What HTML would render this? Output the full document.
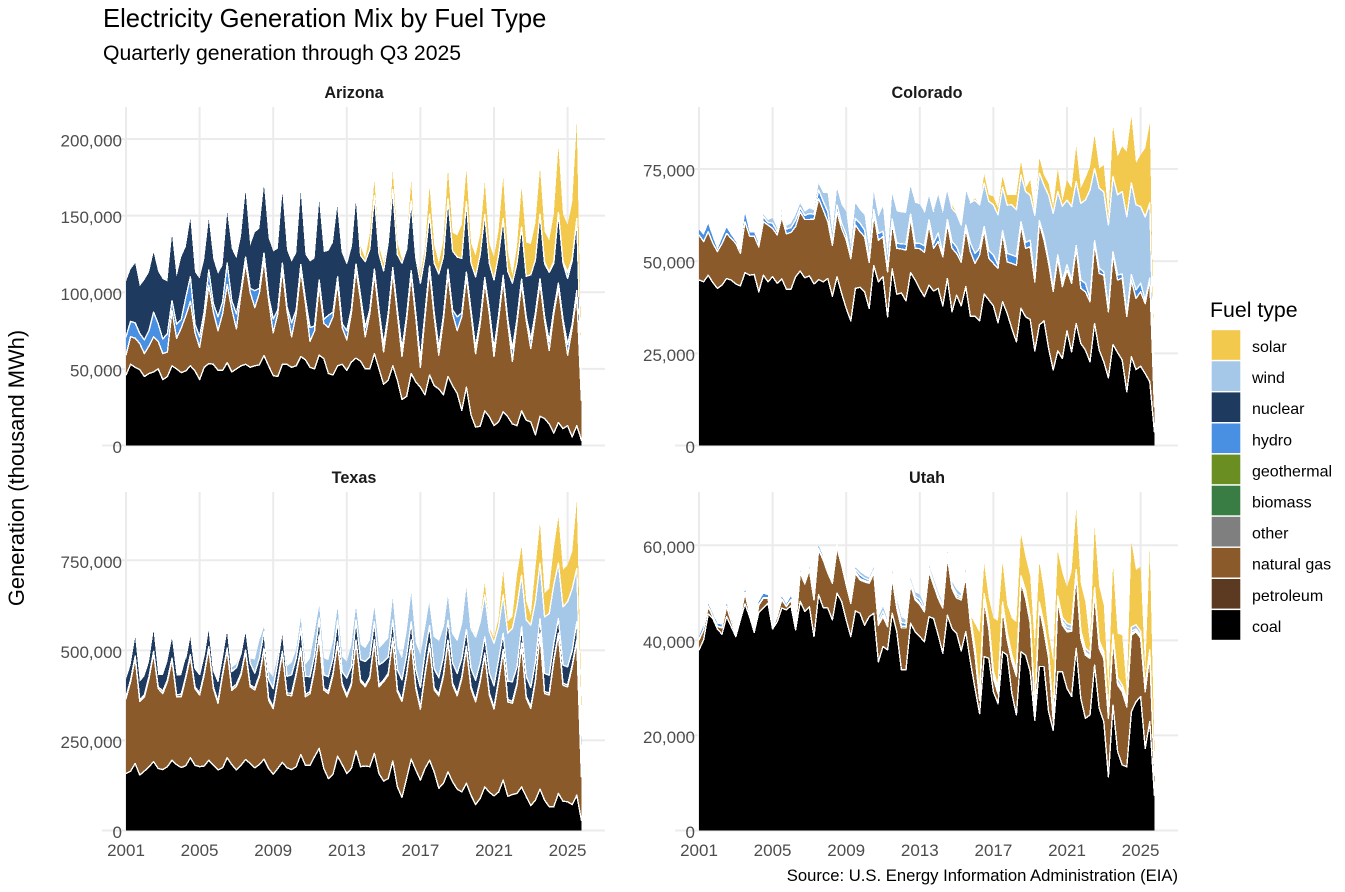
<!DOCTYPE html>
<html lang="en">
<head>
<meta charset="utf-8">
<title>Electricity Generation Mix by Fuel Type</title>
<style>
html,body{margin:0;padding:0;background:#fff;}
svg{display:block;font-family:"Liberation Sans",Arial,sans-serif;}
</style>
</head>
<body>
<svg id="chart" width="1345" height="892" viewBox="0 0 1345 892" xmlns="http://www.w3.org/2000/svg">
  <rect x="0" y="0" width="1345" height="892" fill="#fff"/>
  <text x="103" y="27" font-size="25.6" fill="#000">Electricity Generation Mix by Fuel Type</text>
  <text x="103" y="60" font-size="21.2" fill="#000">Quarterly generation through Q3 2025</text>
  <text transform="translate(24,468) rotate(-90)" text-anchor="middle" font-size="21.9" fill="#000">Generation (thousand MWh)</text>
  <text x="1178" y="881" text-anchor="end" font-size="16.65" fill="#000">Source: U.S. Energy Information Administration (EIA)</text>
  <g id="panels"></g>
  <g id="legend">
    <text x="1210" y="317" font-size="21.3" fill="#000">Fuel type</text>
  </g>
</svg>
<script>
// Time axis
const startYear = 2001;
const yearTicks = [2001, 2005, 2009, 2013, 2017, 2021, 2025];

// Legend / stacking
const fuelLabels = ['solar','wind','nuclear','hydro','geothermal','biomass','other','natural gas','petroleum','coal'];
const fuelColors = ['#F2C94C','#A6C8E8','#1E3A5F','#4A90E2','#6B8E23','#3A7D44','#7F7F7F','#8B5A2B','#5C3A21','#000000'];

// Tick values
const arizonaTicks = [0, 50000, 100000, 150000, 200000];
const coloradoTicks = [0, 25000, 50000, 75000];
const texasTicks = [0, 250000, 500000, 750000];
const utahTicks = [0, 20000, 40000, 60000];

// Arizona series (each value is in thousands of the axis unit)
const arizonaCoal = [46,53,51,49.5,45,47,48,50,43,45,52,50,47.6,48.7,52,48.7,43,51,53.5,53,49,49,54,48,50,52,53,51,52,52.6,58.7,52,45.6,45,53,53,51,52,58,56,51,50,59,56.7,47,46,52,53,49,54.5,57,55,50,50,60,50,40,42.6,52,42.6,30,32,47,41.5,38,33,46,39,37,33,45,39,34,23,38,20,12,12.6,22.6,18.7,13,15.4,22,18.7,14,13,22.6,16.5,15.4,7,19,17.6,14,8,15,11,13,5.6,13,3.5];
const arizonaGas = [13,18,19,17,15,18,23,18,17,16,36,20,29,36,42,25,21,31,51,34,26,37,51,41,26,47,66,49,38,47,62,43,28,41,62,35,20,34,56,37,17,25,45,23,30,38,54,24,20,32,58,40,21,36,52,36,21,41,61,43,28,50,64,42,13,51,68,45,22,49,67,47,41,61,72,66,48,67,84,67,45,67,86,61,41,67,83,65,48,77,87,64,48,78,88,69,46,71,85,26];
const arizonaHydro = [12,10,10,6.5,9,10,16,11.5,9.5,12,6.5,9,5.4,12,16,5.4,7,5.4,10,5.4,9,7.6,14,5.4,10,2.5,4,2.5,11,3,5,2.5,9,2.5,4,2.5,9,2.5,4,2.5,9,3,4,2.5,8,3,4,2.5,6,2.5,3.5,2.5,6,2.5,3,2.5,5,2.5,3,2.5,5,2.5,3,2.5,5,2.5,3,2.5,5,2.5,3,2.5,9,2.5,3,2.5,4,2.5,3,2.5,5,2.5,3,2.5,8,2.5,3,2.5,6,2.5,3,2.5,6,2.5,3,2.5,7,2.5,3,1];
const arizonaNuclear = [36,34,39,31,39,38,39,34,39,34,43,31,41,33,38,34,38,34,33,29,28,24,33,34,36,35,43,28,38,39,44,38,44,40,46,37,40,37,47,29,43,44,51.5,44,42,45.5,48,47,44,41.5,46.5,26.5,43,39.5,48,36.5,48,46.5,51,36.5,56,43.5,45.5,36.5,50,36.5,34,32.5,48,38.5,46,38.5,39,35.5,46,30.5,46,42.5,41,30.5,45,39.5,37,31.5,43,36.5,34,26.5,42,34.5,42,34.5,45,30.5,46,36.5,43,41.5,46,10];
const arizonaWind = [0,0,0,0,0,0,0,0,0,0,0,0,0,0,0,0,0,0,0,0,0,0,0,0,0,0,0,0,0,0,0,0,0,0,0,0,0,0,0,0,0,0,0,0,0,0,0,0,0,0,0,0,0,0,0,0,0,0,0,0,0,0,0,0,0,0,0,0,0,0,0,0,0,0,0,0,0,0,0,0,0,0,0,0,0,0,0,0,0,0,0,1,0,1,0,1,4,1,1,0];
const arizonaSolar = [0,0,0,0,0,0,0,0,0,0,0,0,0,0,0,0,0,0,0,0,0,0,0,0,0,0,0,0,0,0,0,0,0,0,0,0,0,0,0,0,0,0,0,0,0,0,0,1,1,0,1,6,2,10,10,5,5,1,12,8,2,1,13,1,5,6,18,12,7,11,19,12,14,22,21,13,14,13,21,13,15,16,27,13,5,11,26,22,20,24,30,20,21,31,43,31,31,37,62,11];

// Colorado series
const coloradoCoal = [44.9,44.4,46.2,44.2,42.6,43.5,45.3,44.9,43.8,43.3,46.9,46.2,46.4,41.7,46.2,44.4,45.8,44,45.2,42.4,42.4,45.8,47.3,45.5,46,43.8,45,44.4,45.3,40.5,45.8,41.3,37.2,33.8,42.6,42.9,41.7,37.2,48.8,44.4,45.8,34.9,47.9,41,41.4,39.2,46.9,44.9,42.4,40.4,43.5,41.9,42.6,37.9,45.3,36.3,40.8,37.9,43.1,35.1,35.1,33.8,41.1,39.5,37.9,33.3,39,35.8,31.8,28.1,37.2,34.9,34.2,25.7,32.7,33.8,26.3,20.5,25.7,23.6,31.1,25.4,33.1,27.7,25.9,22.7,33.1,25.9,22.7,18.4,27.4,25.2,23.2,14.6,24.1,20.6,21.5,19.5,17.3,3.7];
const coloradoGas = [12.2,10.9,11.8,10.7,10,11.3,12.2,11.3,11,8.8,13.8,10.6,10.4,12.2,14.5,15.4,13.1,13.1,16.7,15,15.4,13.6,16.1,15.8,15.3,17.6,22,19.5,15.4,13.8,17.6,17.6,18.6,16.9,17.2,15.1,14.9,12.5,13.8,11.3,10.9,12.2,12.4,12.5,11.9,13.8,14.8,8.6,11,12,16.3,11.6,12.7,13.3,14.9,17.2,11.3,11.8,15.8,17.5,14.3,17.9,17.4,11.3,11.5,14.8,18.6,14,17.6,20.8,22.6,18.6,19.7,18.7,27.6,21.9,23.1,21.3,25.1,19.5,16.5,18.6,20.4,14.9,15.8,16.3,21.7,20.8,23.5,17.9,24.3,19.7,22.2,20.4,20.8,19.3,20.2,19,27.6,6.8];
const coloradoHydro = [1.5,1.8,2.1,1.6,0.5,1.4,1.6,0.9,0.5,0.5,2.3,1,1,0.7,1.4,0.7,1.4,0.9,1.4,1.3,1.3,1.8,1.1,1.1,1.6,1.3,2.3,2.3,2.7,0.7,1.8,1.4,1.4,0.7,1.8,2.3,1.8,0.7,1.4,1.8,1.4,0.7,1.1,1.4,1.4,1.6,1.1,1.4,1.4,1.8,1.4,1.4,2.3,0.9,1.1,1.8,1.8,0.9,0.9,2.3,2.7,1.8,0.9,2,2.3,0.9,0.7,2.3,2.3,2.3,0.9,1.6,1.8,0.7,0.7,0.9,0.9,0.7,0.9,1.4,1.4,0.7,0.7,2.3,2.3,0.9,0.7,1.4,0.9,0.7,0.9,1.4,1.1,0.7,1.4,2.3,2.3,0.9,0.5,0.2];
const coloradoWind = [0,0,0,0,0,0,0,0,0,0,0,0,0,0,0.6,0.6,1.4,0.9,0.5,0.9,1.1,1.4,1.2,1,1.4,1.1,1.8,2.3,5,2.4,4.5,5,6.3,2.4,4.1,3.6,4.1,2.6,4.7,4.5,6.8,3.3,6.8,8.6,8.5,8.5,7.5,10.9,10.6,9.2,7.2,8.6,10.4,10.9,8.1,9,9,9.2,9.5,10.9,14.5,11.8,11.8,13.4,13.6,13.6,11.8,13.1,13.6,12.7,12.7,13.8,12.2,17.4,12.9,14,17.6,20.5,17.2,20.4,17.6,20.1,17.4,20.8,22.6,29.4,19.6,21.7,21.7,22.8,20.4,21.7,22.4,26.4,24.9,23.1,20.8,22.6,20.4,3.4];
const coloradoSolar = [0,0,0,0,0,0,0,0,0,0,0,0,0,0,0,0,0,0,0,0,0,0,0,0,0,0,0,0,0,0,0,0,0,0,0,0,0,0,0,0,0,0,0,0,0,0,0,0,0,0,0.1,0,0,0,0,0.9,0.2,0.1,0,0,0.5,0,2.3,1.8,2.3,1.8,2.9,2.7,2.7,4.1,3.6,0.9,4.1,0.5,4.1,2.7,3.2,1.8,6.1,1.4,5.4,5,9.5,4.1,5.9,6.3,9,5.4,7.2,2.3,13.6,10.4,12.2,17.6,18.1,11.3,14,18.6,21.5,4.5];

// Texas series
const texasCoal = [158,165,186,154,165,177,191,172,169,177,195,183,175,180,202,181,177,179,195,181,168,174,202,183,168,181,197,186,174,183,198,172,156,172,189,174,169,177,211,181,181,205,228,172,144,156,206,183,158,172,221,177,179,177,214,158,137,144,193,121,92,144,198,168,140,172,195,163,117,131,163,135,115,107,131,98,72,89,121,106,96,107,140,95,100,103,121,94,69,84,115,84,66,66,103,81,80,72,98,29];
const texasGas = [208,248,292,204,206,245,301,222,211,236,278,188,196,243,281,213,199,253,310,213,185,257,299,206,232,250,299,213,216,244,303,190,182,241,303,202,205,255,290,190,199,241,310,218,236,276,313,220,213,232,303,236,220,245,310,241,276,287,336,264,266,287,326,227,197,259,319,227,257,296,361,269,259,315,375,296,285,324,366,270,241,306,357,262,253,301,394,273,270,329,428,296,310,403,440,322,319,382,426,120];
const texasOther = [5,5,6,4,6,5,5,5,7,5,5,6,7,5,5,5,6,5,5,5,6,5,5,6,6,5,5,5,6,5,5,6,5,5,5,6,7,5,5,6,6,5,5,5,6,5,5,5,6,5,5,6,5,5,5,6,5,5,5,6,5,5,5,6,5,5,5,6,5,5,5,6,5,5,5,6,5,5,5,6,5,5,5,7,5,5,5,6,5,5,5,6,5,5,5,6,5,5,5,4];
const texasNuclear = [48,41,52,51,51,41,58,32,44,51,55,53,53,51,60,51,51,51,60,46,55,51,60,46,46,55,60,60,41,46,46,51,51,51,60,46,51,41,55,51,41,37,46,37,41,41,60,32,46,45,55,55,65,55,50,55,50,45,50,55,55,50,50,47,55,57,50,53,45,50,55,55,57,50,47,50,55,47,45,55,60,55,45,50,55,45,45,55,53,50,40,50,50,45,40,50,50,40,50,10];
const texasWind = [0,0,0,0,0,0,0,0,0,0,0,0,0,0,1,1,1,1,1,1,1,1,1,12,10,5,3,14,37,50,14,23,32,18,2,28,34,23,28,32,51,60,35,46,46,46,35,42,46,61,37,42,37,46,42,46,51,52,60,60,60,65,79,73,90,68,69,90,105,88,83,83,93,102,135,111,120,115,117,116,118,93,107,134,148,168,144,157,173,167,154,157,171,163,154,162,181,172,148,100];
const texasSolar = [0,0,0,0,0,0,0,0,0,0,0,0,0,0,0,0,0,0,0,0,0,0,0,0,0,0,0,0,0,0,0,0,0,0,0,0,0,0,0,0,0,0,0,0,0,0,0,0,0,0,0,0,0,0,0,0,0,0,0,0,0,0,0,0,0,0,0,1,3,1,1,1,2,3,3,5,5,9,32,9,14,23,65,32,32,88,79,51,28,93,111,65,69,102,128,102,102,102,185,93];

// Utah series
const utahCoal = [38,40.1,45.5,44.6,42.4,41.3,45,42.9,40.8,44.3,47.7,45,41.7,45.9,46.8,47.8,42.4,43.9,46.8,46.4,47.3,42.2,48.2,46.1,47.1,40.8,49.6,46.9,46.8,44.3,49.9,48.2,44.3,40.8,46.2,45.7,43.2,45,45.7,35.5,38.7,38,45.7,41.8,33.8,33.8,43.6,41.8,40.8,39.7,45,44.6,41.1,37.3,45.3,42.5,41.5,37.8,41.8,35.5,29.9,24.6,36.6,36.2,29.2,26.7,37.6,36.9,28.9,24.3,37.6,36.9,33.4,23.2,34.5,34.5,25,21.1,33.4,33.4,29.9,28.2,38.3,27.8,23.6,24.3,34.8,25.7,22.9,11.3,26.4,16.6,13.8,13.4,25,27.1,28.2,17.3,22.9,7.4];
const utahGas = [2.1,2.1,1.6,0.4,0.5,1.3,2.1,1.1,0.4,0.7,2.2,0.7,0.1,1.5,2.1,1.1,0.1,1.1,1.8,0.7,1.2,0.7,6,5.8,7.7,7.7,9.5,10,7.4,7.7,9.5,7.7,7.4,7,7.9,7,9.1,7,8.4,7.7,6.3,4.9,7.5,4.9,8.8,8.8,8.1,6.7,6.7,6.3,9.5,7,7.7,9.5,12.3,8.4,7.4,10.7,11.6,8.1,7,2.8,11.9,6.3,2.8,2.1,9.1,3.2,6.7,8.1,14.7,11.9,10.2,1.8,12.3,7.4,11.2,2.1,14.7,9.8,11.9,13.7,15.4,12.6,13.3,11.9,15.1,12.6,13.3,12.3,13.7,14,15.4,12.6,16.1,14.7,12.3,11.9,14,4.2];
const utahGeothermal = [0.1,0.1,0.1,0.1,0.1,0.1,0.1,0.1,0.1,0.1,0.1,0.1,0.1,0.1,0.1,0.1,0.1,0.1,0.1,0.1,0.1,0.1,0.1,0.1,0.2,0.2,0.2,0.2,0.2,0.2,0.2,0.2,0.3,0.3,0.3,0.3,0.3,0.3,0.3,0.3,0.3,0.3,0.3,0.3,0.4,0.4,0.3,0.3,0.3,0.3,0.3,0.3,0.3,0.3,0.3,0.3,0.4,0.4,0.3,0.3,0.3,0.3,0.3,0.3,0.3,0.3,0.3,0.3,0.3,0.3,0.3,0.3,0.3,0.3,0.3,0.3,0.3,0.3,0.3,0.3,0.3,0.3,0.3,0.3,0.3,0.3,0.3,0.3,0.3,0.3,0.3,0.3,0.3,0.3,0.3,0.3,0.3,0.3,0.3,0.1];
const utahHydro = [0.6,0.8,0.5,0.5,0.5,0.6,0.6,0.5,0.4,0.5,0.7,0.5,0.3,0.6,0.8,0.5,0.3,0.4,0.5,0.4,0.7,0.5,0.3,0.3,0.4,0.3,0.6,0.5,0.4,0.3,0.5,0.6,0.4,0.3,0.5,0.8,0.5,0.4,0.4,0.6,0.8,0.5,0.4,0.7,0.8,0.5,0.4,0.5,0.8,0.5,0.4,0.3,0.3,0.3,0.4,0.4,0.5,0.3,0.4,0.5,0.4,0.3,0.4,0.5,0.4,0.3,0.4,0.5,0.3,0.3,0.4,0.6,0.3,0.3,0.3,0.5,0.3,0.3,0.3,0.5,0.6,0.3,0.3,0.5,0.3,0.3,0.3,0.5,0.3,0.3,0.3,0.3,0.3,0.6,0.5,0.3,0.3,0.2,0.2,0.1];
const utahWind = [0,0,0,0,0,0,0,0,0,0,0,0,0,0,0,0,0,0,0,0,0,0,0,0,0,0,0,0,0.3,0.3,0.3,0.3,0.3,0.3,0.5,0.6,0.6,0.5,0.6,0.8,1,0.6,0.7,1,1.1,0.8,0.7,0.8,1.1,0.6,0.6,0.8,0.7,0.5,0.7,0.8,0.9,0.6,0.7,0.8,0.9,0.7,0.6,0.8,0.8,0.7,0.6,0.7,0.8,0.7,0.6,0.8,0.7,0.6,0.6,0.8,0.7,0.6,0.6,0.8,0.9,0.7,0.6,0.9,0.8,0.7,0.6,0.8,0.8,0.7,0.6,0.9,0.8,0.7,0.9,0.9,0.8,0.7,0.6,0.2];
const utahSolar = [0,0,0,0,0,0,0,0,0,0,0,0,0,0,0,0,0,0,0,0,0,0,0,0,0,0,0,0,0,0,0,0,0,0,0,0,0,0,0,0,0,0,0,0,0,0,0,0,0,0,0,0,0,0,0,0,0,0,0,0,5,12.9,6.2,4.8,11.2,14,8.4,5.9,7.7,10.1,8.7,7,8.7,12.6,8.4,7,4.1,11.2,9.4,9.4,7.7,11.2,12.6,9.8,9.8,1.7,12.9,11.5,9.8,4.8,14.5,9.3,10.5,1.7,18,11.5,13.6,3.1,21,5.6];

const panelDefs = [
  {name:'Arizona', left:102, right:605, top:107, bottom:446.5, x0:126, base:445.5, ticks:arizonaTicks, topY:139, valueScale:1000, rowHasXLabels:false,
    layers:[['coal',arizonaCoal,9],['natural gas',arizonaGas,7],['hydro',arizonaHydro,3],['nuclear',arizonaNuclear,2],['wind',arizonaWind,1],['solar',arizonaSolar,0]]},
  {name:'Colorado', left:675, right:1178, top:107, bottom:446.5, x0:699, base:445.5, ticks:coloradoTicks, topY:169, valueScale:1000, rowHasXLabels:false,
    layers:[['coal',coloradoCoal,9],['natural gas',coloradoGas,7],['hydro',coloradoHydro,3],['wind',coloradoWind,1],['solar',coloradoSolar,0]]},
  {name:'Texas', left:102, right:605, top:492, bottom:831, x0:126, base:830.5, ticks:texasTicks, topY:560.3, valueScale:1000, rowHasXLabels:true,
    layers:[['coal',texasCoal,9],['natural gas',texasGas,7],['other',texasOther,6],['nuclear',texasNuclear,2],['wind',texasWind,1],['solar',texasSolar,0]]},
  {name:'Utah', left:675, right:1178, top:492, bottom:831, x0:699, base:830.5, ticks:utahTicks, topY:545.3, valueScale:1000, rowHasXLabels:true,
    layers:[['coal',utahCoal,9],['natural gas',utahGas,7],['geothermal',utahGeothermal,4],['hydro',utahHydro,3],['wind',utahWind,1],['solar',utahSolar,0]]}
];

const NS = 'http://www.w3.org/2000/svg';
const pxPerYear = 18.4;
const gridColor = '#ebebeb';
const panelsRoot = document.getElementById('panels');
const legendRoot = document.getElementById('legend');

function svgEl(tag, attrs, parent) {
  const el = document.createElementNS(NS, tag);
  for (const k in attrs) el.setAttribute(k, attrs[k]);
  parent.appendChild(el);
  return el;
}
function xScale(panel, year) {
  return panel.x0 + (year - startYear) * pxPerYear;
}
function yScale(panel, value) {
  const topValue = panel.ticks[panel.ticks.length - 1];
  return panel.base - value * (panel.base - panel.topY) / topValue;
}
function kebab(text) {
  return text.toLowerCase().replace(/\s+/g, '-');
}

panelDefs.forEach(function (panel) {
  const slug = kebab(panel.name);
  const group = svgEl('g', {}, panelsRoot);
  
  

  // Strip title
  const strip = svgEl('text', {x:(panel.left + panel.right) / 2 + 0.5, y:panel.top - 9, 'text-anchor':'middle', 'font-size':16.2, 'font-weight':'bold', fill:'#1a1a1a'}, group);
  
  
  strip.textContent = panel.name;

  // Gridlines: horizontal
  panel.ticks.forEach(function (tick) {
    const y = yScale(panel, tick);
    const line = svgEl('line', {x1:panel.left, x2:panel.right, y1:y, y2:y, stroke:gridColor, 'stroke-width':2}, group);
    
    
    const label = svgEl('text', {x:panel.left + 20, y:y + 7.5, 'text-anchor':'end', 'font-size':17, fill:'#4d4d4d'}, group);
    
    
    label.textContent = tick.toLocaleString('en-US');
  });

  // Gridlines: vertical
  yearTicks.forEach(function (yr) {
    const x = xScale(panel, yr);
    const line = svgEl('line', {x1:x, x2:x, y1:panel.top, y2:panel.bottom, stroke:gridColor, 'stroke-width':2}, group);
    
    
    if (panel.rowHasXLabels) {
      const label = svgEl('text', {x:x, y:panel.bottom + 25, 'text-anchor':'middle', 'font-size':17, fill:'#4d4d4d'}, group);
      
      
      label.textContent = String(yr);
    }
  });

  // Stack layers from the bottom up (series are stored in thousands of the axis unit)
  const count = panel.layers[0][1].length;
  const running = new Array(count).fill(0);
  const stacked = panel.layers.map(function (layer) {
    const lower = running.slice();
    for (let i = 0; i < count; i++) running[i] += (layer[1][i] || 0) * panel.valueScale;
    return {fuel:layer[0], colorIndex:layer[2], lower:lower, upper:running.slice()};
  });
  const totals = running.slice();

  // Draw from the top of the stack down so lower layers' outlines sit on top
  stacked.reverse().forEach(function (layer) {
    const upperPts = [];
    const lowerPts = [];
    for (let i = 0; i < count; i++) {
      const x = xScale(panel, startYear + i / 4).toFixed(1);
      upperPts.push(x + ',' + yScale(panel, layer.upper[i]).toFixed(1));
      lowerPts.unshift(x + ',' + yScale(panel, layer.lower[i]).toFixed(1));
    }
    const area = svgEl('polygon', {points:upperPts.concat(lowerPts).join(' '), fill:fuelColors[layer.colorIndex], 'shape-rendering':'crispEdges'}, group);
    
    
    // White separator only where another layer sits above it
    let d = '';
    for (let i = 0; i < count - 1; i++) {
      if (totals[i] > layer.upper[i] || totals[i + 1] > layer.upper[i + 1]) {
        d += 'M' + upperPts[i] + 'L' + upperPts[i + 1];
      }
    }
    if (d) {
      const edge = svgEl('path', {d:d, fill:'none', stroke:'#fff', 'stroke-width':1.4, 'stroke-linecap':'round', 'shape-rendering':'crispEdges'}, group);
      
      
    }
  });
});

// Legend
fuelLabels.forEach(function (label, i) {
  const y = 329.5 + i * 31.1;
  const entry = svgEl('g', {}, legendRoot);
  
  
  const key = svgEl('rect', {x:1211, y:y, width:30, height:31.1, fill:fuelColors[i], stroke:'#fff', 'stroke-width':1.4}, entry);
  
  
  const text = svgEl('text', {x:1252, y:y + 22.5, 'font-size':16, fill:'#000'}, entry);
  
  
  text.textContent = label;
});
</script>
</body>
</html>
